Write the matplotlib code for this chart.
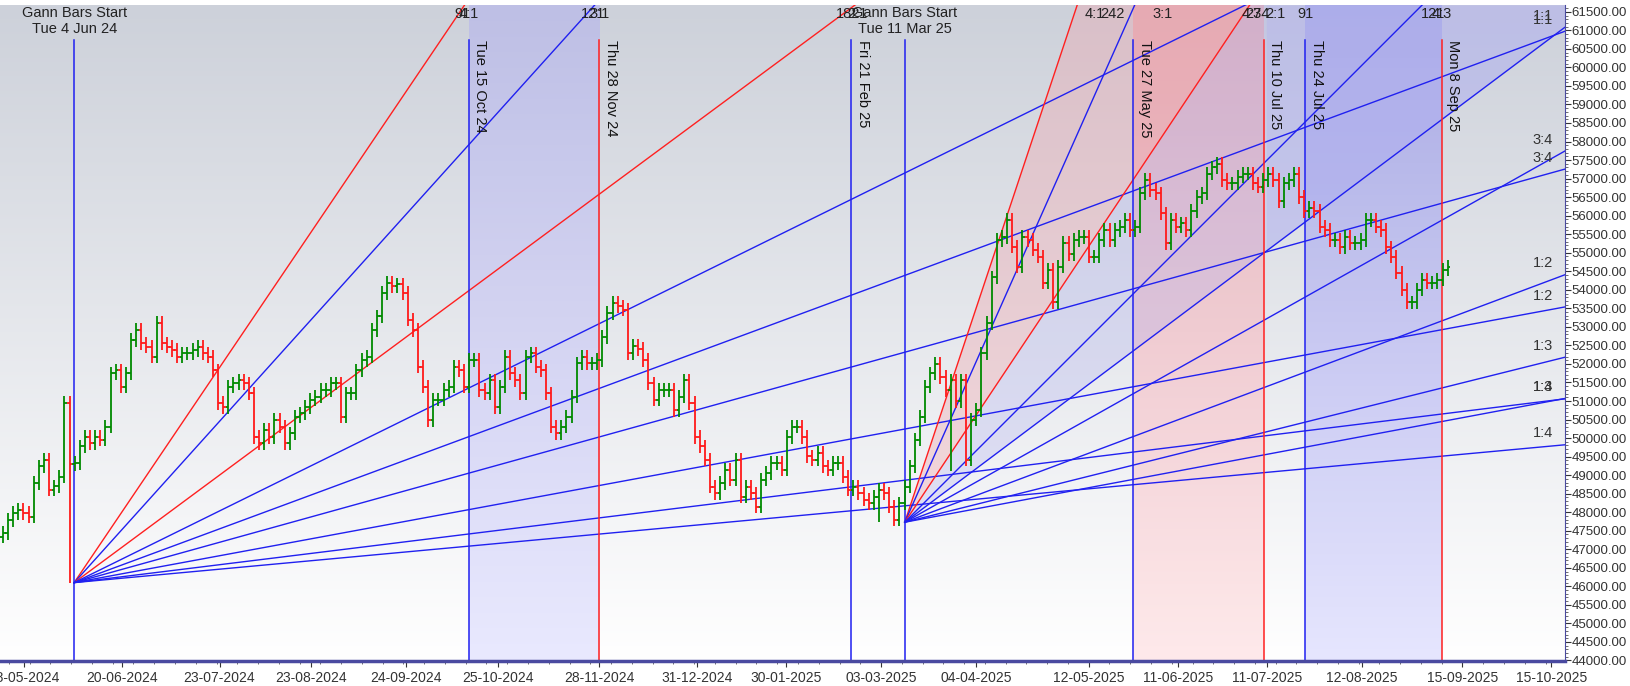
import numpy as np
import pandas as pd
import matplotlib
matplotlib.use("Agg")
import matplotlib.pyplot as plt
import matplotlib.dates as mdates
from matplotlib.colors import to_rgb
from matplotlib.ticker import MultipleLocator, FuncFormatter

plt.rcParams['font.family'] = ['Liberation Sans Narrow', 'Liberation Sans', 'DejaVu Sans']

# ---------------- data ----------------
closes = [47440, 47790, 47980, 48060, 47980, 47880, 48790, 49240, 49420, 48610, 48700, 48960, 50950,
          49300,
          49330, 49780, 50030, 49870, 50030, 49960, 50310, 51750, 51830, 51390, 51750, 52650, 52920, 52560,
          52470, 52200, 53100, 52560, 52470, 52380, 52200, 52290, 52290, 52380, 52470, 52290, 52200, 51830,
          50950, 50840, 51390, 51480, 51560, 51480, 51210, 50030, 49870, 50220, 50030, 50490, 50310, 49870,
          50130, 50580, 50670, 50840, 51040, 51120,
          51300, 51300, 51480, 51480, 50580, 51210, 51210, 51830, 52110, 52200, 52920, 53280, 53910, 54180,
          54100, 54150, 53910, 53190, 52920, 51930, 51390, 50490, 51040, 51040, 51300, 51390, 51930, 51830,
          51390, 52110, 52110, 51300, 51210, 51560, 50840, 51390, 52200, 51750, 51560, 51210, 52200, 52290,
          51930, 51830, 51210, 50310, 50130, 50310, 50580, 51120, 52020, 52200, 52020, 52020, 52110, 52730,
          53370, 53640, 53550, 53460,
          52290, 52480, 52400, 52110, 51480, 51040, 51300, 51300, 51300, 50760, 51120, 51560, 50950, 50030,
          49780, 49420, 48690, 48510, 48790, 49150, 48880, 49420, 48420, 48690, 48510, 48150, 48880, 49060,
          49330, 49330, 49150, 50030, 50310, 50310, 50030, 49510, 49420, 49600, 49240, 49150, 49330, 49330,
          48960, 48610, 48690, 48510, 48340, 48240, 48420, 48610, 48510, 48150, 47800,
          48240, 48690, 49240, 49960, 50580, 51390, 51750, 52000, 51650, 51300, 51560, 51000, 51560, 49420,
          50500, 50760, 52290, 53100, 54340, 55340, 55420, 55880, 55160, 54620, 55420, 55340, 55080, 54890,
          54190, 54540, 53660, 54620, 55260, 54970, 55340, 55420, 55420, 54890, 54890, 55340, 55610, 55340,
          55610, 55700, 55880, 55610, 55700, 56600, 56960, 56690, 56600, 56060, 55260, 55880, 55700, 55790,
          55610, 56130, 56500, 56600, 57130, 57300, 57400, 56960, 56870, 56870, 57050, 57130, 57130, 56870,
          56780, 56960, 57130, 56960, 56400, 56870, 56960, 57130, 56500, 56130, 56220, 56130, 55700, 55610,
          55340, 55340, 55150, 55420, 55260, 55260, 55340, 55880, 55880, 55700, 55610, 55150, 54890, 54460,
          54000, 53660, 53660, 54000, 54270, 54190, 54190, 54270, 54540, 54620]
first_bar, last_bar = "2024-05-11", "2025-09-10"
spike_lows = {13: 46100, 171: 47730, 185: 49100}

fan_origins = [("2024-06-04", 46100, 29.6), ("2025-03-11", 47730, 60.0)]
fan_ratios = [4, 3, 2, 4/3, 1, 3/4, 1/2, 1/3, 1/4]
fan_names = ["4:1", "3:1", "2:1", "4:3", "1:1", "3:4", "1:2", "1:3", "1:4"]
fan_red = [True, False, True, False, False, False, False, False, False]

vlines = [("2024-06-04", "b", None), ("2024-10-15", "b", "Tue 15 Oct 24"),
          ("2024-11-28", "r", "Thu 28 Nov 24"), ("2025-02-21", "b", "Fri 21 Feb 25"),
          ("2025-03-11", "b", None), ("2025-05-27", "b", "Tue 27 May 25"),
          ("2025-07-10", "r", "Thu 10 Jul 25"), ("2025-07-24", "b", "Thu 24 Jul 25"),
          ("2025-09-08", "r", "Mon 8 Sep 25")]
start_labels = [("2024-06-04", "Gann Bars Start\nTue 4 Jun 24"), ("2025-03-11", "Gann Bars Start\nTue 11 Mar 25")]
bands = [("2024-10-15", "2024-11-28", "#bcbce8", "#e6e6ff"),
         ("2025-05-27", "2025-07-10", "#e6aab4", "#ffe6e8"),
         ("2025-07-24", "2025-09-08", "#a4a4e6", "#e2e2ff")]
top_labels = [("2024-10-13", "91"), ("2024-10-15", "4:1"), ("2024-11-26", "121"), ("2024-11-28", "3:1"),
              ("2025-02-20", "182"), ("2025-02-23", "2:1"), ("2025-05-14", "4:1"), ("2025-05-20", "242"),
              ("2025-06-06", "3:1"), ("2025-07-06", "4:3"), ("2025-07-08", "274"), ("2025-07-14", "2:1"),
              ("2025-07-24", "91"), ("2025-09-05", "121"), ("2025-09-08", "4:3")]
xtick_dates = ["2024-05-18", "2024-06-20", "2024-07-23", "2024-08-23", "2024-09-24", "2024-10-25",
               "2024-11-28", "2024-12-31", "2025-01-30", "2025-03-03", "2025-04-04", "2025-05-12",
               "2025-06-11", "2025-07-11", "2025-08-12", "2025-09-15", "2025-10-15"]

# ---------------- figure ----------------
fig = plt.figure(figsize=(16.3, 6.86), dpi=100)
ax = fig.add_axes([0, 0.0364, 0.960, 0.9564])
x0, x1 = mdates.date2num(pd.Timestamp("2024-05-10")), mdates.date2num(pd.Timestamp("2025-10-19 12:00"))
y0, y1 = 43985, 61685

def vgrad(c_top, c_bot, n=256):
    a, b = np.array(to_rgb(c_top)), np.array(to_rgb(c_bot))
    t = np.linspace(0, 1, n)[:, None]
    return (a * (1 - t) + b * t)[:, None, :]

ax.imshow(vgrad("#cdd1da", "#ffffff"), extent=[0, 1, 0, 1], transform=ax.transAxes,
          aspect="auto", zorder=0)
for s, e, ct, cb in bands:
    ax.imshow(vgrad(ct, cb), extent=[mdates.date2num(pd.Timestamp(s)), mdates.date2num(pd.Timestamp(e)), y0, y1],
              aspect="auto", zorder=0.5, alpha=0.85)

# fans
for k, (od, op0, unit) in enumerate(fan_origins):
    ox = mdates.date2num(pd.Timestamp(od))
    xs = np.linspace(ox, x1, 200)
    t = xs - ox
    if k == 1:
        ax.fill_between(xs, op0 + 2 * unit * t, op0 + 4 * unit * t, color="#f0a0a8", alpha=0.35, zorder=0.8, lw=0)
        ax.fill_between(xs, op0 + 1 * unit * t, op0 + 2 * unit * t, color="#b0b0f0", alpha=0.3, zorder=0.8, lw=0)
        m = xs >= mdates.date2num(pd.Timestamp("2025-07-10"))
        ax.fill_between(xs[m], op0 + unit * t[m], y1, color="#b0b0f0", alpha=0.35, zorder=0.8, lw=0)
    for r, nm, red in zip(fan_ratios, fan_names, fan_red):
        ax.plot(xs, op0 + r * unit * t, color="#ff2020" if red else "#2020f0", lw=1.0, zorder=2)
        yend = op0 + r * unit * (x1 - ox)
        if r <= 1:
            ax.text(x1 - 4, yend + 120, nm, ha="right", va="bottom", fontsize=10.5, color="#333333", zorder=5)

# vertical lines
for d, c, lab in vlines:
    xd = mdates.date2num(pd.Timestamp(d))
    ax.plot([xd, xd], [y0, 60740], color="#ff2020" if c == "r" else "#2020f0", lw=1.1, zorder=2.5)
    if lab:
        ax.text(xd + 1.5, 60740, lab, rotation=270, ha="left", va="top", fontsize=10.5, color="#111111", zorder=5)
for d, lab in start_labels:
    ax.text(mdates.date2num(pd.Timestamp(d)), 61660, lab, ha="center", va="top", fontsize=10.5,
            color="#222222", zorder=5, linespacing=1.15)
for d, lab in top_labels:
    ax.text(mdates.date2num(pd.Timestamp(d)), 61630, lab, ha="center", va="top", fontsize=10.5,
            color="#222222", zorder=5)

# OHLC bars
bd = pd.date_range(first_bar, last_bar, periods=len(closes))
bx = mdates.date2num(bd)
cl = np.array(closes, float)
op = np.concatenate([[cl[0] - 100], cl[:-1]])
hi = np.maximum(op, cl) + 180
lo = np.minimum(op, cl) - 180
for i, v in spike_lows.items():
    lo[i] = v
up = cl >= op
for mask, col in [(up, "#008a00"), (~up, "#ff1a1a")]:
    ax.vlines(bx[mask], lo[mask], hi[mask], color=col, lw=1.3, zorder=3)
    ax.hlines(op[mask], bx[mask] - 0.9, bx[mask], color=col, lw=1.3, zorder=3)
    ax.hlines(cl[mask], bx[mask], bx[mask] + 0.9, color=col, lw=1.3, zorder=3)

ax.set_xlim(x0, x1)
ax.set_ylim(y0, y1)

# axes styling
ax.yaxis.tick_right()
ax.set_yticks(np.arange(44000, 61501, 500))
ax.yaxis.set_major_formatter(FuncFormatter(lambda v, p: f"{v:.2f}"))
ax.yaxis.set_minor_locator(MultipleLocator(100))
ax.set_xticks(mdates.date2num(pd.to_datetime(xtick_dates)))
ax.xaxis.set_major_formatter(mdates.DateFormatter("%d-%m-%Y"))
ax.xaxis.set_minor_locator(mdates.WeekdayLocator(byweekday=0))
ax.tick_params(axis="y", labelsize=9.5, colors="#333333", length=4, pad=1)
ax.tick_params(axis="x", labelsize=10, colors="#333333", length=4, pad=3)
ax.tick_params(which="minor", length=2, colors="#555555")
for s in ["top", "left"]:
    ax.spines[s].set_visible(False)
ax.spines["right"].set_color("#4a4aa0")
ax.spines["bottom"].set_color("#4a4aa0")
ax.spines["bottom"].set_linewidth(2.5)

fig.savefig("out.png", dpi=100)
